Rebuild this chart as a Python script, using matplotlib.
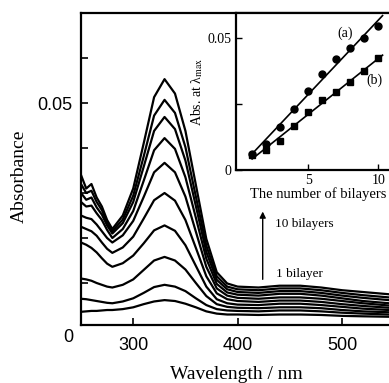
import matplotlib
matplotlib.use("Agg")
import matplotlib.pyplot as plt
import numpy as np

plt.rcParams["font.family"] = ["Liberation Serif", "DejaVu Serif"]
plt.rcParams["mathtext.fontset"] = "stix"

# 吸收光谱：波长网格
wavelength = [250, 255, 260, 265, 270, 275, 280, 290, 300, 310, 320, 330, 340,
              350, 360, 370, 380, 390, 400, 420, 440, 460, 480, 500, 520, 545]

# 1 ~ 10 bilayers
abs_1 = [.0036, .0037, .0038, .0038, .0039, .0040, .0040, .0042, .0046, .0053, .0059, .0062, .0060,
         .0054, .0046, .0037, .0032, .0030, .0030, .0029, .0030, .0030, .0029, .0027, .0026, .0025]
abs_2 = [.0065, .0064, .0062, .0060, .0058, .0056, .0055, .0059, .0066, .0078, .0091, .0096, .0092,
         .0082, .0066, .0051, .0042, .0039, .0038, .0037, .0039, .0039, .0037, .0034, .0032, .0030]
abs_3 = [.0110, .0108, .0105, .0100, .0096, .0092, .0090, .0096, .0108, .0129, .0150, .0158, .0150,
         .0130, .0100, .0071, .0053, .0047, .0045, .0044, .0046, .0046, .0044, .0040, .0037, .0035]
abs_4 = [.0190, .0185, .0178, .0168, .0155, .0143, .0136, .0144, .0161, .0188, .0217, .0228, .0216,
         .0184, .0138, .0092, .0064, .0055, .0052, .0051, .0054, .0054, .0051, .0047, .0043, .0040]
abs_5 = [.0225, .0220, .0215, .0205, .0190, .0176, .0167, .0179, .0203, .0243, .0284, .0300, .0283,
         .0240, .0178, .0115, .0077, .0064, .0060, .0058, .0061, .0061, .0058, .0053, .0049, .0045]
abs_6 = [.0250, .0245, .0242, .0230, .0215, .0200, .0190, .0206, .0238, .0291, .0346, .0367, .0346,
         .0292, .0214, .0136, .0088, .0072, .0067, .0065, .0068, .0068, .0065, .0060, .0055, .0050]
abs_7 = [.0280, .0270, .0272, .0255, .0240, .0218, .0200, .0220, .0260, .0327, .0395, .0422, .0398,
         .0335, .0245, .0154, .0098, .0079, .0074, .0072, .0076, .0076, .0072, .0066, .0060, .0055]
abs_8 = [.0300, .0285, .0290, .0268, .0252, .0228, .0210, .0233, .0280, .0358, .0438, .0469, .0442,
         .0372, .0271, .0169, .0107, .0086, .0080, .0078, .0082, .0082, .0078, .0072, .0067, .0062]
abs_9 = [.0320, .0300, .0305, .0280, .0262, .0235, .0215, .0241, .0294, .0381, .0472, .0507, .0478,
         .0402, .0292, .0183, .0115, .0092, .0086, .0084, .0088, .0088, .0084, .0078, .0073, .0068]
abs_10 = [.0340, .0310, .0320, .0290, .0270, .0240, .0220, .0250, .0310, .0410, .0513, .0553, .0521,
          .0438, .0318, .0198, .0124, .0099, .0092, .0090, .0094, .0094, .0090, .0084, .0080, .0075]
spectra = [abs_1, abs_2, abs_3, abs_4, abs_5, abs_6, abs_7, abs_8, abs_9, abs_10]

# 插图：λmax 处吸光度 vs 层数
bilayers = [1, 2, 3, 4, 5, 6, 7, 8, 9, 10]
abs_a = [0.0059, 0.0100, 0.0163, 0.0233, 0.0300, 0.0363, 0.0422, 0.0463, 0.0500, 0.0544]
abs_b = [0.0056, 0.0074, 0.0110, 0.0167, 0.0219, 0.0267, 0.0296, 0.0333, 0.0374, 0.0426]

W, H = 389, 383
fig = plt.figure(figsize=(W / 100, H / 100), dpi=100)
ax = fig.add_axes([81 / W, 1 - 325 / H, 0.80, (325 - 13) / H])

for s in spectra:
    ax.plot(wavelength, s, color="black", lw=1.6)

ax.set_xlim(250, 548)
ax.set_ylim(0.00067, 0.0700)
ax.set_xticks([300, 400, 500])
ax.set_xticklabels(["300", "400", "500"], family="Liberation Sans", fontsize=13)
ax.set_yticks([0.01, 0.02, 0.03, 0.04, 0.05, 0.06])
ax.set_yticklabels(["", "", "", "", "0.05", ""], family="Liberation Sans", fontsize=13)
ax.tick_params(direction="in", length=5, width=1.2, pad=6)
ax.tick_params(axis="x", pad=9)
for sp in ax.spines.values():
    sp.set_linewidth(1.6)
ax.text(-0.025, -0.04, "0", transform=ax.transAxes, family="Liberation Sans",
        fontsize=13, ha="right", va="center")
ax.set_xlabel("Wavelength / nm", fontsize=14, labelpad=8)
ax.set_ylabel("Absorbance", fontsize=14)
ax.yaxis.set_label_coords(-0.17, 0.478)

ax.annotate("", xy=(424, 0.0265), xytext=(424, 0.0102),
            arrowprops=dict(arrowstyle="-|>", color="black", lw=1.0, mutation_scale=9))
ax.text(436, 0.0231, "10 bilayers", fontsize=9.5, va="center")
ax.text(437, 0.0120, "1 bilayer", fontsize=9.5, va="center")

# 插图
ins = fig.add_axes([236 / W, 1 - 170 / H, 0.42, (170 - 13) / H])
ins.plot(bilayers, abs_a, "o", color="black", ms=5)
ins.plot(bilayers, abs_b, "s", color="black", ms=5)
fa = np.polyfit(bilayers, abs_a, 1)
fb = np.polyfit(bilayers, abs_b, 1)
xf = np.array([1, 10.3])
ins.plot(xf, np.polyval(fa, xf), color="black", lw=1.2)
ins.plot(xf, np.polyval(fb, xf), color="black", lw=1.2)
ins.set_xlim(-0.15, 11.5)
ins.set_ylim(0, 0.0595)
ins.set_xticks([5, 10])
ins.set_yticks([0, 0.025, 0.05])
ins.set_yticklabels(["0", "", "0.05"])
ins.tick_params(direction="in", length=4, width=1.0, labelsize=10, pad=3)
for sp in ins.spines.values():
    sp.set_linewidth(1.6)
ins.set_xlabel("The number of bilayers", fontsize=10.5, labelpad=0)
ins.set_ylabel("Abs. at λ$_{\\rm max}$", fontsize=10, labelpad=2)
ins.text(7.6, 0.052, "(a)", fontsize=10, ha="center", va="center")
ins.text(9.7, 0.034, "(b)", fontsize=10, ha="center", va="center")

fig.savefig("out.png", dpi=100)
